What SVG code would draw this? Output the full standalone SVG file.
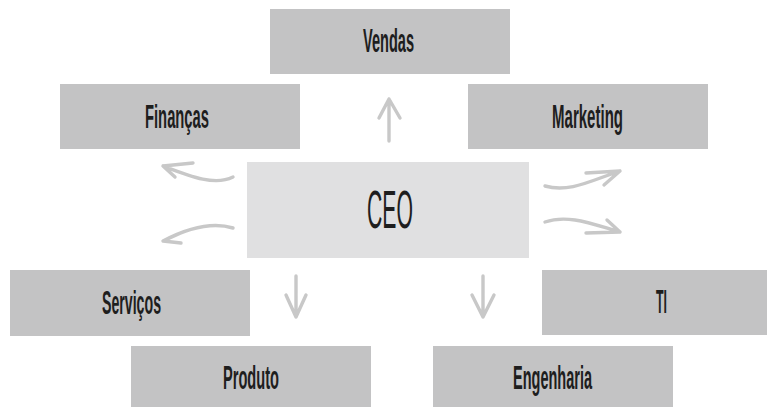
<svg xmlns="http://www.w3.org/2000/svg" width="767" height="407" viewBox="0 0 767 407">
  <style>
    .box { fill: #c3c3c4; }
    .ceo { fill: #e0e0e1; }
    .lbl { font-family: "Liberation Sans", Arial, sans-serif; font-weight: bold; font-size: 33px; fill: #1e1e1e; text-anchor: middle; }
    .big { font-size: 54px; font-weight: normal; }
    .arrow { fill: none; stroke: #c8c8c8; stroke-width: 3.4; stroke-linecap: round; stroke-linejoin: round; }
  </style>
  <rect width="767" height="407" fill="#ffffff"/>

  <g id="vendas">
    <rect class="box" x="270" y="9" width="240" height="65"/>
    <text class="lbl" x="388.5" y="52" textLength="51" lengthAdjust="spacingAndGlyphs">Vendas</text>
  </g>
  <g id="financas">
    <rect class="box" x="60" y="84" width="240" height="65"/>
    <text class="lbl" x="177" y="128" textLength="64" lengthAdjust="spacingAndGlyphs">Finanças</text>
  </g>
  <g id="marketing">
    <rect class="box" x="468" y="84" width="240" height="65"/>
    <text class="lbl" x="587.5" y="128" textLength="71" lengthAdjust="spacingAndGlyphs">Marketing</text>
  </g>
  <g id="ceo">
    <rect class="ceo" x="247" y="162" width="282" height="96"/>
    <text class="lbl big" x="390" y="228" textLength="46" lengthAdjust="spacingAndGlyphs">CEO</text>
  </g>
  <g id="servicos">
    <rect class="box" x="10" y="270" width="240" height="66"/>
    <text class="lbl" x="131.5" y="314" textLength="59" lengthAdjust="spacingAndGlyphs">Serviços</text>
  </g>
  <g id="ti">
    <rect class="box" x="542" y="270" width="225" height="65"/>
    <text class="lbl" x="661.5" y="313" textLength="11" lengthAdjust="spacingAndGlyphs">TI</text>
  </g>
  <g id="produto">
    <rect class="box" x="131" y="346" width="240" height="61"/>
    <text class="lbl" x="251" y="389" textLength="56" lengthAdjust="spacingAndGlyphs">Produto</text>
  </g>
  <g id="engenharia">
    <rect class="box" x="433" y="346" width="240" height="61"/>
    <text class="lbl" x="552.5" y="389" textLength="79" lengthAdjust="spacingAndGlyphs">Engenharia</text>
  </g>

  <g id="connectors" class="arrow">
    <!-- up to Vendas -->
    <path d="M389,141 L389,99 M379,118 L389,99 L400,118"/>
    <!-- left-up to Finanças -->
    <path d="M233,177 C215,186 192,177 163,166 M193,163 L163,166 L175,177"/>
    <!-- left-down to Serviços -->
    <path d="M233,228 C210,221 186,229 163,241 M183,232 L163,241 L181,243"/>
    <!-- right-up to Marketing -->
    <path d="M545,186 C570,193 592,180 620,171 M586,173 L620,171 L604,185"/>
    <!-- right-down to TI -->
    <path d="M545,222 C568,214 592,224 620,232 M607,220 L620,232 L586,233"/>
    <!-- down to Produto -->
    <path d="M296,276 L296,317 M286,295 L296,317 L306,295"/>
    <!-- down to Engenharia -->
    <path d="M483,276 L483,317 M472,295 L483,317 L494,295"/>
  </g>
</svg>
